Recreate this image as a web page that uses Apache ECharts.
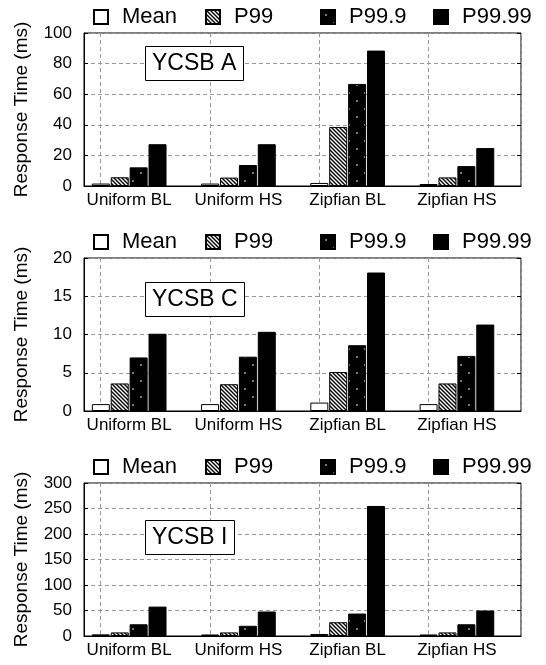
<!DOCTYPE html>
<html>
<head>
<meta charset="utf-8">
<script src="https://cdn.jsdelivr.net/npm/echarts@6/dist/echarts.min.js"></script>
<style>
html, body { margin: 0; padding: 0; background: #fff; }
#chart { width: 546px; height: 665px; }
</style>
</head>
<body>
<div id="chart"></div>
<script>
// data
const categories = ['Uniform BL', 'Uniform HS', 'Zipfian BL', 'Zipfian HS'];
const seriesNames = ['Mean', 'P99', 'P99.9', 'P99.99'];
const workloads = ['YCSB A', 'YCSB C', 'YCSB I'];
const yMax = [100, 20, 300];
const yStep = [20, 5, 50];

// YCSB A
const aMean = [1.6, 1.6, 2.0, 1.3];
const aP99 = [5.7, 5.5, 38.6, 5.6];
const aP999 = [12.2, 13.7, 66.7, 13.0];
const aP9999 = [27.3, 27.3, 88.5, 24.8];
// YCSB C
const cMean = [0.9, 0.9, 1.1, 0.9];
const cP99 = [3.6, 3.5, 5.1, 3.6];
const cP999 = [7.0, 7.1, 8.6, 7.2];
const cP9999 = [10.1, 10.35, 18.1, 11.3];
// YCSB I
const iMean = [3.3, 3.0, 4.0, 3.0];
const iP99 = [7, 7, 27, 7];
const iP999 = [23, 20, 44, 23];
const iP9999 = [57.6, 48, 255, 50];

const panelData = [
    [aMean, aP99, aP999, aP9999],
    [cMean, cP99, cP999, cP9999],
    [iMean, iP99, iP999, iP9999]
];

const FONT = '"Liberation Sans", Arial, sans-serif';

// fill patterns
function hatchCanvas() {
    const c = document.createElement('canvas');
    c.width = 4; c.height = 4;
    const g = c.getContext('2d');
    g.fillStyle = '#fff';
    g.fillRect(0, 0, 4, 4);
    g.strokeStyle = '#000';
    g.lineWidth = 1.4;
    g.beginPath();
    g.moveTo(-1, -1); g.lineTo(5, 5);
    g.moveTo(-1, 3); g.lineTo(1, 5);
    g.moveTo(3, -1); g.lineTo(5, 1);
    g.stroke();
    return c;
}
function dotCanvas() {
    const c = document.createElement('canvas');
    c.width = 16; c.height = 16;
    const g = c.getContext('2d');
    g.fillStyle = '#000';
    g.fillRect(0, 0, 16, 16);
    g.fillStyle = '#777';
    g.fillRect(4, 4, 2, 2);
    g.fillRect(12, 12, 2, 2);
    return c;
}
const fills = [
    '#fff',
    {image: hatchCanvas(), repeat: 'repeat'},
    {image: dotCanvas(), repeat: 'repeat'},
    '#000'
];

// layout
const panelTop = [33, 258, 483];
const plotH = 153;
const plotLeft = 84;
const plotW = 437;
const legendLeft = [88, 200, 315, 428];
const boxTop = [46, 282, 520];

const grid = [], xAxis = [], yAxis = [], series = [], legend = [], title = [];

panelTop.forEach((top, p) => {
    grid.push({
        left: plotLeft, top: top, width: plotW, height: plotH,
        show: true, borderColor: '#000', borderWidth: 1, backgroundColor: 'transparent'
    });
    // category axis for the bars
    xAxis.push({
        type: 'category', gridIndex: p, data: categories,
        axisLine: {lineStyle: {color: '#000', width: 1}},
        axisTick: {show: false},
        splitLine: {show: false},
        axisLabel: {
            interval: 0, margin: 6, color: '#000', fontFamily: FONT, fontSize: 17,
            formatter: v => '{c|' + v + '}',
            rich: {c: {padding: [0, 19, 0, 0], fontSize: 17, fontFamily: FONT, color: '#000'}}
        }
    });
    // hidden value axis, only for the vertical dashed grid lines
    xAxis.push({
        type: 'value', gridIndex: p, min: -0.153, max: 3.847, splitNumber: 4,
        axisLine: {show: false, onZero: false}, axisTick: {show: false}, axisLabel: {show: false},
        splitLine: {show: true, lineStyle: {color: '#999', type: [4, 3], width: 1}}
    });
    yAxis.push({
        type: 'value', gridIndex: p, min: 0, max: yMax[p], interval: yStep[p],
        name: 'Response Time (ms)', nameLocation: 'middle', nameGap: 53,
        nameTextStyle: {fontFamily: FONT, fontSize: 19, color: '#000'},
        axisLine: {show: true, onZero: false, lineStyle: {color: '#000'}},
        axisTick: {show: true, inside: true, length: 4, lineStyle: {color: '#000'}},
        axisLabel: {margin: 12, color: '#000', fontFamily: FONT, fontSize: 17},
        splitLine: {show: true, lineStyle: {color: '#999', type: [4, 3], width: 1}}
    });
    yAxis.push({
        type: 'value', gridIndex: p, position: 'right', min: 0, max: yMax[p], interval: yStep[p],
        axisLine: {show: false, onZero: false},
        axisTick: {show: true, inside: true, length: 4, lineStyle: {color: '#000'}},
        axisLabel: {show: false}, splitLine: {show: false}
    });

    seriesNames.forEach((name, s) => {
        series.push({
            name: name, type: 'bar',
            xAxisIndex: p * 2, yAxisIndex: p * 2,
            barWidth: 18, barGap: '5%',
            data: panelData[p][s],
            itemStyle: {color: fills[s], borderColor: '#000', borderWidth: 1},
            emphasis: {disabled: true}
        });
        legend.push({
            data: [name],
            left: legendLeft[s], top: top - 32,
            icon: 'rect', itemWidth: 14, itemHeight: 14,
            selectedMode: false,
            textStyle: {fontFamily: FONT, fontSize: 22, color: '#000', padding: [0, 0, 0, 9]}
        });
    });
    // empty slot that pushes the four bars left of the band centre
    series.push({
        name: 'pad' + p, type: 'bar',
        xAxisIndex: p * 2, yAxisIndex: p * 2,
        barWidth: 18, barGap: '5%',
        data: [0, 0, 0, 0], silent: true,
        itemStyle: {color: 'transparent', borderWidth: 0}
    });

    title.push({
        text: workloads[p], left: 145, top: boxTop[p],
        padding: [5, 7, 4, 7],
        borderWidth: 1, borderColor: '#000', backgroundColor: '#fff',
        textStyle: {fontFamily: FONT, fontSize: 23, fontWeight: 'normal', color: '#000', lineHeight: 26}
    });
});

const chart = echarts.init(document.getElementById('chart'), null, {renderer: 'canvas'});
chart.setOption({
    animation: false,
    backgroundColor: '#fff',
    title: title,
    legend: legend,
    grid: grid,
    xAxis: xAxis,
    yAxis: yAxis,
    series: series
});
</script>
</body>
</html>
